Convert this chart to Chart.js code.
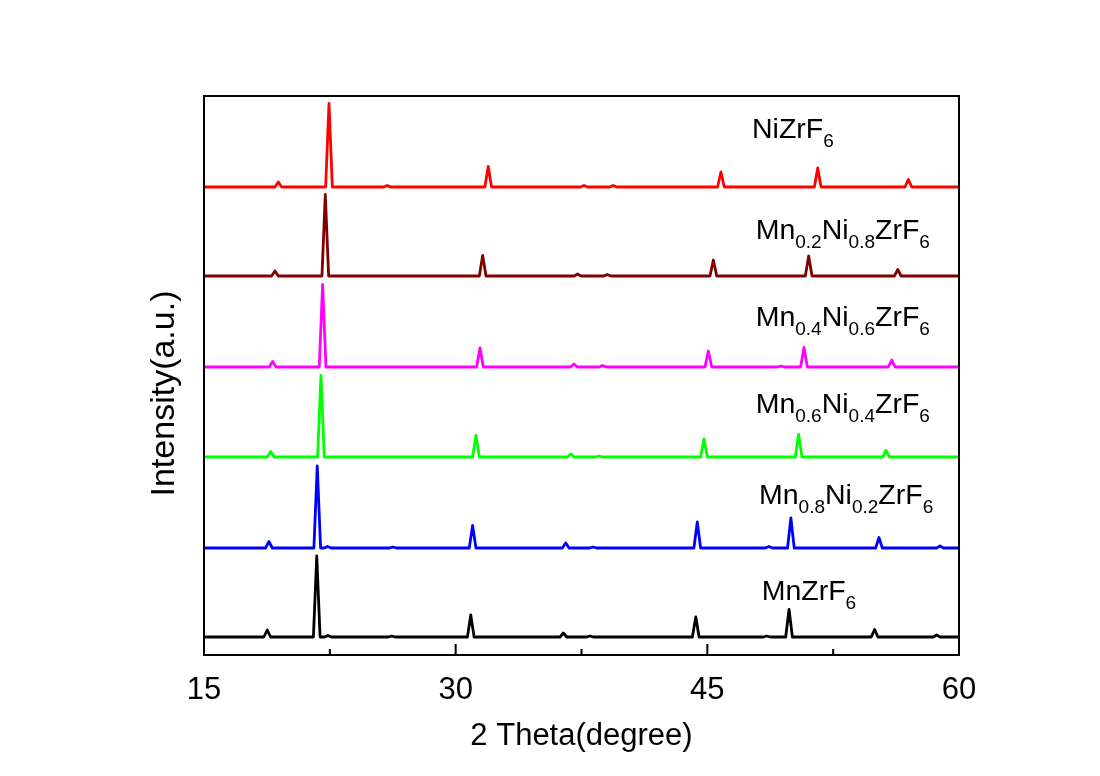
<!DOCTYPE html>
<html>
<head>
<meta charset="utf-8">
<title>XRD patterns</title>
<script src="https://cdn.jsdelivr.net/npm/chart.js@4.4.0/dist/chart.umd.min.js"></script>
<style>
  body { margin: 0; background: #fff; }
  canvas { display: block; }
</style>
</head>
<body>
<canvas id="xrd" width="1100" height="776"></canvas>
<script>
// samples from bottom to top; name pieces alternate normal / subscript
var names = [
  ['MnZrF', '6'],
  ['Mn', '0.8', 'Ni', '0.2', 'ZrF', '6'],
  ['Mn', '0.6', 'Ni', '0.4', 'ZrF', '6'],
  ['Mn', '0.4', 'Ni', '0.6', 'ZrF', '6'],
  ['Mn', '0.2', 'Ni', '0.8', 'ZrF', '6'],
  ['NiZrF', '6']
];
var colors = ['#000000', '#0000ff', '#00ff00', '#ff00ff', '#800000', '#ff0000'];

// baseline shift of each pattern (a.u.)
var offsets = [18, 107, 198, 288, 379, 468];

// reflections: 2theta (degree) and height above baseline (a.u.)
var mnZrF6Pos = [18.77, 21.72, 22.39, 26.19, 30.90, 36.42, 38.01, 44.31, 48.54, 49.87, 54.97, 58.67];
var mnZrF6Int = [7, 81, 1.5, 1, 22, 4, 1, 20, 1, 27.5, 7.5, 2];

var mn08Pos = [18.87, 21.75, 22.37, 26.26, 31.01, 36.56, 38.19, 44.40, 48.67, 49.98, 55.23, 58.87];
var mn08Int = [6.5, 82, 1.5, 1, 22.5, 5, 1, 26, 1.5, 30, 10.5, 2];

var mn06Pos = [18.98, 21.97, 31.21, 36.86, 38.54, 44.80, 50.44, 55.65];
var mn06Int = [5.5, 81.5, 21.5, 3, 1, 18, 22.5, 6.5];

var mn04Pos = [19.09, 22.07, 31.45, 37.05, 38.76, 45.06, 49.39, 50.76, 55.99];
var mn04Int = [5.5, 82.5, 19, 3, 1.5, 16, 1, 19.5, 7];

var mn02Pos = [19.23, 22.23, 31.61, 37.27, 39.04, 45.36, 51.04, 56.35];
var mn02Int = [5, 81.5, 20.5, 2, 1.5, 16, 20, 6.5];

var niZrF6Pos = [19.43, 22.45, 25.92, 31.94, 37.65, 39.39, 45.81, 51.58, 56.98];
var niZrF6Int = [5, 83.5, 1.5, 20.5, 1.5, 1.5, 15, 19, 7.5];

var xMajor = [15, 30, 45, 60];
var xMinor = [22.5, 37.5, 52.5];

// where each sample name sits (2theta, a.u.)
var nameTheta = [48.24, 48.08, 47.88, 47.88, 47.88, 47.66];
var nameY = [55, 151, 242, 329, 416, 517];

var HALF_WIDTH = 0.2;
var FONT = "'Liberation Sans', Arial, sans-serif";

function pattern(pos, inten, base) {
  var pts = [{x: 15, y: base}];
  for (var i = 0; i < pos.length; i++) {
    pts.push({x: pos[i] - HALF_WIDTH, y: base});
    pts.push({x: pos[i], y: base + inten[i]});
    pts.push({x: pos[i] + HALF_WIDTH, y: base});
  }
  pts.push({x: 60, y: base});
  return pts;
}

var allPos = [mnZrF6Pos, mn08Pos, mn06Pos, mn04Pos, mn02Pos, niZrF6Pos];
var allInt = [mnZrF6Int, mn08Int, mn06Int, mn04Int, mn02Int, niZrF6Int];

var datasets = [];
for (var s = 0; s < allPos.length; s++) {
  datasets.push({
    label: names[s].join(''),
    data: pattern(allPos[s], allInt[s], offsets[s]),
    borderColor: colors[s],
    borderWidth: 2.8,
    borderJoinStyle: 'round',
    pointRadius: 0,
    tension: 0,
    fill: false
  });
}

// frame, inward ticks, sample names and y title
var decorations = {
  id: 'decorations',
  afterDatasetsDraw: function(chart) {
    var ctx = chart.ctx, a = chart.chartArea;
    var xs = chart.scales.x, ys = chart.scales.y;
    ctx.save();
    ctx.strokeStyle = '#000';
    ctx.lineWidth = 2;
    ctx.strokeRect(a.left, a.top, a.right - a.left, a.bottom - a.top);

    ctx.beginPath();
    xMajor.forEach(function(v) {
      var px = xs.getPixelForValue(v);
      ctx.moveTo(px, a.bottom);
      ctx.lineTo(px, a.bottom - 11);
    });
    xMinor.forEach(function(v) {
      var px = xs.getPixelForValue(v);
      ctx.moveTo(px, a.bottom);
      ctx.lineTo(px, a.bottom - 6);
    });
    ctx.stroke();

    ctx.fillStyle = '#000';
    ctx.textBaseline = 'alphabetic';
    ctx.textAlign = 'left';
    for (var i = 0; i < names.length; i++) {
      var x = xs.getPixelForValue(nameTheta[i]);
      var y = ys.getPixelForValue(nameY[i]);
      names[i].forEach(function(part, k) {
        var sub = k % 2 === 1;
        ctx.font = (sub ? '19px ' : '28.5px ') + FONT;
        ctx.fillText(part, x, sub ? y + 9 : y);
        x += ctx.measureText(part).width;
      });
    }

    ctx.translate(a.left - 39, (a.top + a.bottom) / 2 + 18);
    ctx.rotate(-Math.PI / 2);
    ctx.textAlign = 'center';
    ctx.textBaseline = 'middle';
    ctx.font = '34px ' + FONT;
    ctx.fillText('Intensity(a.u.)', 0, 0);
    ctx.restore();
  }
};

var ctx = document.getElementById('xrd').getContext('2d');
new Chart(ctx, {
  type: 'line',
  data: { datasets: datasets },
  options: {
    responsive: false,
    animation: false,
    layout: { padding: { top: 96, right: 141, left: 0, bottom: 0 } },
    plugins: { legend: { display: false }, tooltip: { enabled: false } },
    scales: {
      x: {
        type: 'linear',
        min: 15,
        max: 60,
        afterFit: function(scale) { scale.height = 121; },
        afterBuildTicks: function(scale) {
          scale.ticks = xMajor.map(function(v) { return {value: v}; });
        },
        grid: { display: false },
        border: { display: false },
        ticks: { padding: 9, color: '#000', font: { family: FONT, size: 31 } },
        title: {
          display: true,
          text: '2 Theta(degree)',
          color: '#000',
          font: { family: FONT, size: 31 },
          padding: { top: 0, bottom: 21 }
        }
      },
      y: {
        min: 0,
        max: 559,
        afterFit: function(scale) { scale.width = 204; },
        grid: { display: false },
        border: { display: false },
        ticks: { display: false }
      }
    }
  },
  plugins: [decorations]
});
</script>
</body>
</html>
